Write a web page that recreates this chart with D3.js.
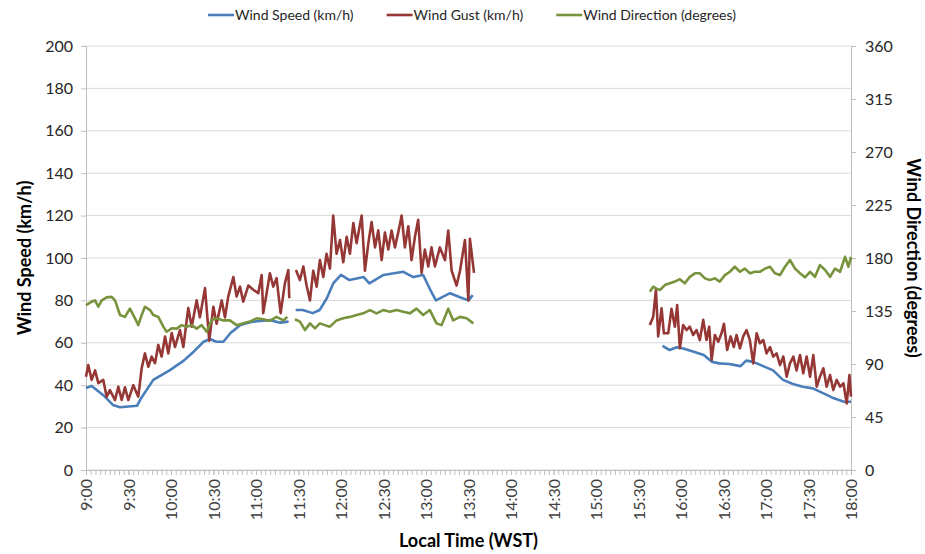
<!DOCTYPE html>
<html>
<head>
<meta charset="utf-8">
<script src="https://cdn.jsdelivr.net/npm/d3@7"></script>
<style>
  body { margin: 0; background: #fff; }
  text { font-family: Lato, "Open Sans", sans-serif; }
</style>
</head>
<body>
<script>
// minutes after 9:00 -> value, null marks a gap in the record
const speedData = [
  [0,38.7],[4,39.6],[12,35.4],[19,30.7],[24,29.6],[36,30.3],[39,34],[47.5,42.5],[59,47],[69,51.6],
  [76,55.8],[83,60.5],[87.5,61.8],[92,60.5],[97,60.5],[102,64.6],[109,68.4],[118,70],[130,70.7],[137,69.5],[143,70],
  [145,null],
  [148,75.5],[153,75.5],[160,74],[165,75.5],[170,81],[174.5,88],[180,92],[186,89.6],[196,91],[200,88],
  [210,92],[224,93.5],[231,91],[238,92],[243,85],[247,80],[257,83.4],[264,81.5],[270,80],[273,82.5],
  [300,null],
  [407,58.5],[412,56.6],[417,57.9],[421,57.4],[429,55.8],[436,54.2],[442,51],[447,50.3],[454,50],[462,49],
  [466,51.6],[471,51],[478,49],[485,47],[492,42.5],[499,40.6],[506,39.3],[513,38.5],[521,36],[528,33.8],[535,32.2],[540,32.2]
];

const gustData = [
  [0,44],[1.6,49.5],[4,42.5],[6.4,47],[8.7,41],[12.2,42.5],[14.6,34.6],[16.9,37.7],[20.5,33],[22.8,39.3],
  [25.2,33],[27.5,39],[29.9,33],[33.4,40],[36.9,34.6],[39.3,48],[41.6,55],[44,48.7],[46.3,53.5],[48.7,50.4],
  [51,59],[53.4,53.5],[55.8,63],[58.1,55],[60.5,64.6],[62.8,58],[66.3,66],[68.7,58],[72.2,76.4],[74.6,67.6],
  [78.1,80],[80.4,72],[84,85.8],[87,61],[89.9,77],[92.2,69],[95.8,80],[98.1,72],[100.4,81.8],[104,91],
  [106.3,81.8],[108.7,86.5],[111,79.4],[114.6,87],[118.1,85],[121.6,83.4],[124,92],[125.1,74],[127.5,83.4],[129.8,92.8],
  [132.2,86.5],[134.5,90.5],[137.4,74],[140.4,88],[142.8,94.3],[143.5,81],
  [145,null],
  [148.2,94.3],[151,89.6],[153.4,96],[155.7,87],[158.1,80],[160.4,94],[162.8,86.5],[165.1,99],[167.5,91],[169.8,102],
  [172.2,95],[174.5,120],[176.9,102],[179.3,108.5],[181.6,98],[184,110],[186.3,102],[188.7,116.5],[191,107],[194.6,120],
  [196.9,94],[199.3,107],[201.6,117],[204,105],[206.3,113],[208.7,99],[211,112],[213.4,104],[215.7,113],[218.1,105],
  [220.4,112],[222.8,120],[225.1,105],[227.5,115],[229.8,99],[232.2,110],[234.5,118],[236.9,93],[239.2,104],[241.6,96],
  [243.9,105],[246.3,96],[249.8,105],[253.4,99],[255.7,113],[258.1,94],[261.6,87],[264,94],[267.5,108.5],[269.9,80],
  [271,109],[273.9,93],
  [300,null],
  [398,68.4],[400.4,72.3],[402.3,85],[403.9,63],[406.3,76.3],[407.9,64.5],[411,64.5],[413.3,76],[415.7,67.6],[417.3,77.8],
  [419.2,57.4],[421.5,68.4],[423.9,66],[426.2,67.6],[428.6,63.7],[431,66],[433.3,61.3],[435.7,70.8],[438,61.3],[439.9,67.6],
  [441.6,51.9],[443.9,63.7],[446.3,60.5],[448.6,64.5],[450.3,69],[452.6,56.6],[455,63],[457.3,58],[459.2,63.7],[461.6,57.4],
  [463.9,63],[466.3,66],[468.6,61.3],[471,50.3],[473.4,64.5],[475.7,59.8],[478.1,61.3],[480.4,55],[482.8,58],[485.1,53.5],
  [487.5,55],[489.9,49.5],[492.2,53.5],[494.6,44],[496.9,50.3],[499.3,53.5],[501.6,47],[504,54.2],[506.3,45.6],[508.7,53.5],
  [511.1,44],[513.4,54.2],[515.8,39.3],[518.1,44],[520.5,48],[522.8,39.3],[525.2,44.8],[527.5,37.7],[529.9,42.5],[532.3,39.3],
  [534.6,40.9],[537,31.4],[538.9,44.8],[540,34.6]
];

const directionData = [
  [0,140],[4,143],[6.4,144],[8.7,138.6],[11.1,144],[14.6,146.6],[18.1,147],[20.5,144],[24,131.6],[27.5,130],
  [31,137],[34.6,128.8],[36.9,123],[39.3,131.6],[41.6,138.6],[45.2,135.8],[47.5,131.6],[51,130],[54.6,121.7],[56.9,117.4],
  [60.5,120.3],[64,120],[67.5,123],[71,121.7],[74.6,123],[78.1,120],[81.6,123],[85.2,117.4],[88.7,127.3],[92.2,128.8],
  [96.9,127],[101.6,127],[106.3,123],[111,124.5],[115.7,126],[120.4,128.8],[125.1,128],[129.8,126.7],[134.5,130],[139.3,127],[142.1,130],
  [145,null],
  [147.5,128],[151,126],[154.6,118.8],[158.1,124.5],[161.6,120.3],[165.1,124.5],[168.7,123],[172.2,121.7],[176.9,127],[181.6,128.8],
  [186.3,130],[191,131.6],[195.7,133],[200.4,135.8],[205.1,133],[209.8,135.8],[214.5,134.4],[219.2,135.8],[223.9,134.4],[228.6,133],
  [233.3,137],[238,131.6],[242.7,135.8],[247.4,124.5],[251,123],[255.7,137],[259.2,127],[264,130],[268.7,128.8],[273.4,124.5],
  [300,null],
  [398,151.4],[400.4,155.6],[402.7,154],[405.1,152.8],[408.6,157],[412.1,158.5],[415.7,160],[419.2,162],[422.7,158.5],[426.2,164],
  [429.8,167],[433.3,167],[436.9,162.7],[440.4,161.3],[443.9,162.7],[447.4,160],[451,165.5],[454.5,168.3],[458,172.6],[461.6,168.3],
  [465.1,171],[468.6,167],[472.2,168.3],[475.7,168.3],[479.3,171],[482.8,172.6],[486.3,167],[489.9,165.5],[493.4,172.6],[496.9,178.3],
  [500.5,171],[504,167],[507.5,163.6],[511.1,168.3],[514.6,164],[518.1,174],[521.7,169.8],[525.2,164],[528.7,171],[532.3,168.3],
  [535.8,181],[538.2,172.6],[540,181]
];

const speedTicks = [0, 20, 40, 60, 80, 100, 120, 140, 160, 180, 200];
const directionTicks = [0, 45, 90, 135, 180, 225, 270, 315, 360];
const timeTicks = d3.range(0, 541, 30);

const seriesNames = ["Wind Speed (km/h)", "Wind Gust (km/h)", "Wind Direction (degrees)"];
const seriesColors = ["#4a7ebb", "#953735", "#77933c"];

const svgWidth = 925;
const svgHeight = 554;
const margin = {left: 86, right: 74, top: 46, bottom: 84};
const chartWidth = svgWidth - margin.left - margin.right;
const chartHeight = svgHeight - margin.top - margin.bottom;

const svg = d3.select("body").append("svg")
    .attr("width", svgWidth)
    .attr("height", svgHeight);

const chart = svg.append("g")
    .attr("transform", `translate(${margin.left},${margin.top})`);

const xScale = d3.scaleLinear().domain([0, 540]).range([0, chartWidth]);
const yLeft = d3.scaleLinear().domain([0, 200]).range([chartHeight, 0]);
const yRight = d3.scaleLinear().domain([0, 360]).range([chartHeight, 0]);

const fmtTime = m => `${9 + Math.floor(m / 60)}:${String(m % 60).padStart(2, "0")}`;

// gridlines
chart.append("g")
    .selectAll("line")
    .data(speedTicks)
    .enter()
    .append("line")
    .attr("x1", 0)
    .attr("x2", chartWidth)
    .attr("y1", d => yLeft(d))
    .attr("y2", d => yLeft(d))
    .attr("stroke", "#d9d9d9")
    .attr("stroke-width", 1);

// left axis
const leftAxis = chart.append("g")
    .call(d3.axisLeft(yLeft).tickValues(speedTicks).tickSize(5).tickPadding(8));
leftAxis.select(".domain").attr("stroke", "#bfbfbf");
leftAxis.selectAll(".tick line").attr("stroke", "#bfbfbf");
leftAxis.selectAll(".tick text")
    .attr("font-size", 16)
    .attr("font-family", "Lato, sans-serif")
    .attr("fill", "#262626");

// right axis
const rightAxis = chart.append("g")
    .attr("transform", `translate(${chartWidth},0)`)
    .call(d3.axisRight(yRight).tickValues(directionTicks).tickSize(5).tickPadding(9));
rightAxis.select(".domain").attr("stroke", "#bfbfbf");
rightAxis.selectAll(".tick line").attr("stroke", "#bfbfbf");
rightAxis.selectAll(".tick text")
    .attr("font-size", 16)
    .attr("font-family", "Lato, sans-serif")
    .attr("fill", "#262626");

// bottom axis: minor ticks then labelled ticks
const minorAxis = chart.append("g")
    .attr("transform", `translate(0,${chartHeight})`)
    .call(d3.axisBottom(xScale).tickValues(d3.range(0, 540.01, 10 / 3)).tickSize(5).tickFormat(""));
minorAxis.select(".domain").attr("stroke", "#bfbfbf");
minorAxis.selectAll(".tick line").attr("stroke", "#bfbfbf");

const bottomAxis = chart.append("g")
    .attr("transform", `translate(0,${chartHeight})`)
    .call(d3.axisBottom(xScale).tickValues(timeTicks).tickSize(5).tickFormat(fmtTime));
bottomAxis.select(".domain").remove();
bottomAxis.selectAll(".tick line").attr("stroke", "#bfbfbf");
bottomAxis.selectAll(".tick text")
    .attr("font-size", 16)
    .attr("font-family", "'Liberation Sans', Arial, sans-serif")
    .attr("fill", "#404040")
    .attr("text-anchor", "end")
    .attr("transform", "rotate(-90)")
    .attr("x", -9)
    .attr("y", 0)
    .attr("dy", "0.35em");

// series
const lineLeft = d3.line()
    .defined(d => d[1] !== null)
    .x(d => xScale(d[0]))
    .y(d => yLeft(d[1]));
const lineRight = d3.line()
    .defined(d => d[1] !== null)
    .x(d => xScale(d[0]))
    .y(d => yRight(d[1]));

const series = [
    {data: speedData, line: lineLeft},
    {data: gustData, line: lineLeft},
    {data: directionData, line: lineRight}
];

series.forEach((s, i) => {
    chart.append("path")
        .datum(s.data)
        .attr("fill", "none")
        .attr("stroke", seriesColors[i])
        .attr("stroke-width", 2.6)
        .attr("stroke-linejoin", "round")
        .attr("d", s.line);
});

// axis titles
svg.append("text")
    .attr("transform", `translate(31,${margin.top + chartHeight / 2}) rotate(-90)`)
    .attr("text-anchor", "middle")
    .attr("font-size", 18)
    .attr("font-weight", "bold")
    .text("Wind Speed (km/h)");

svg.append("text")
    .attr("transform", `translate(907,${margin.top + chartHeight / 2}) rotate(90)`)
    .attr("text-anchor", "middle")
    .attr("font-size", 18)
    .attr("font-weight", "bold")
    .text("Wind Direction (degrees)");

svg.append("text")
    .attr("x", margin.left + chartWidth / 2)
    .attr("y", 547)
    .attr("text-anchor", "middle")
    .attr("font-size", 18)
    .attr("font-weight", "bold")
    .text("Local Time (WST)");

// legend
const legend = svg.append("g");
let lx = 0;
seriesNames.forEach((name, i) => {
    const item = legend.append("g").attr("transform", `translate(${lx},0)`);
    item.append("line")
        .attr("x1", 0).attr("x2", 26)
        .attr("y1", 0).attr("y2", 0)
        .attr("stroke", seriesColors[i])
        .attr("stroke-width", 2.6);
    const t = item.append("text")
        .attr("x", 27)
        .attr("dy", "0.35em")
        .attr("font-size", 14)
        .attr("fill", "#262626")
        .text(name);
    lx += 27 + t.node().getComputedTextLength() + 33;
});
lx -= 33;
legend.attr("transform", `translate(${472 - lx / 2},15)`);
</script>
</body>
</html>
